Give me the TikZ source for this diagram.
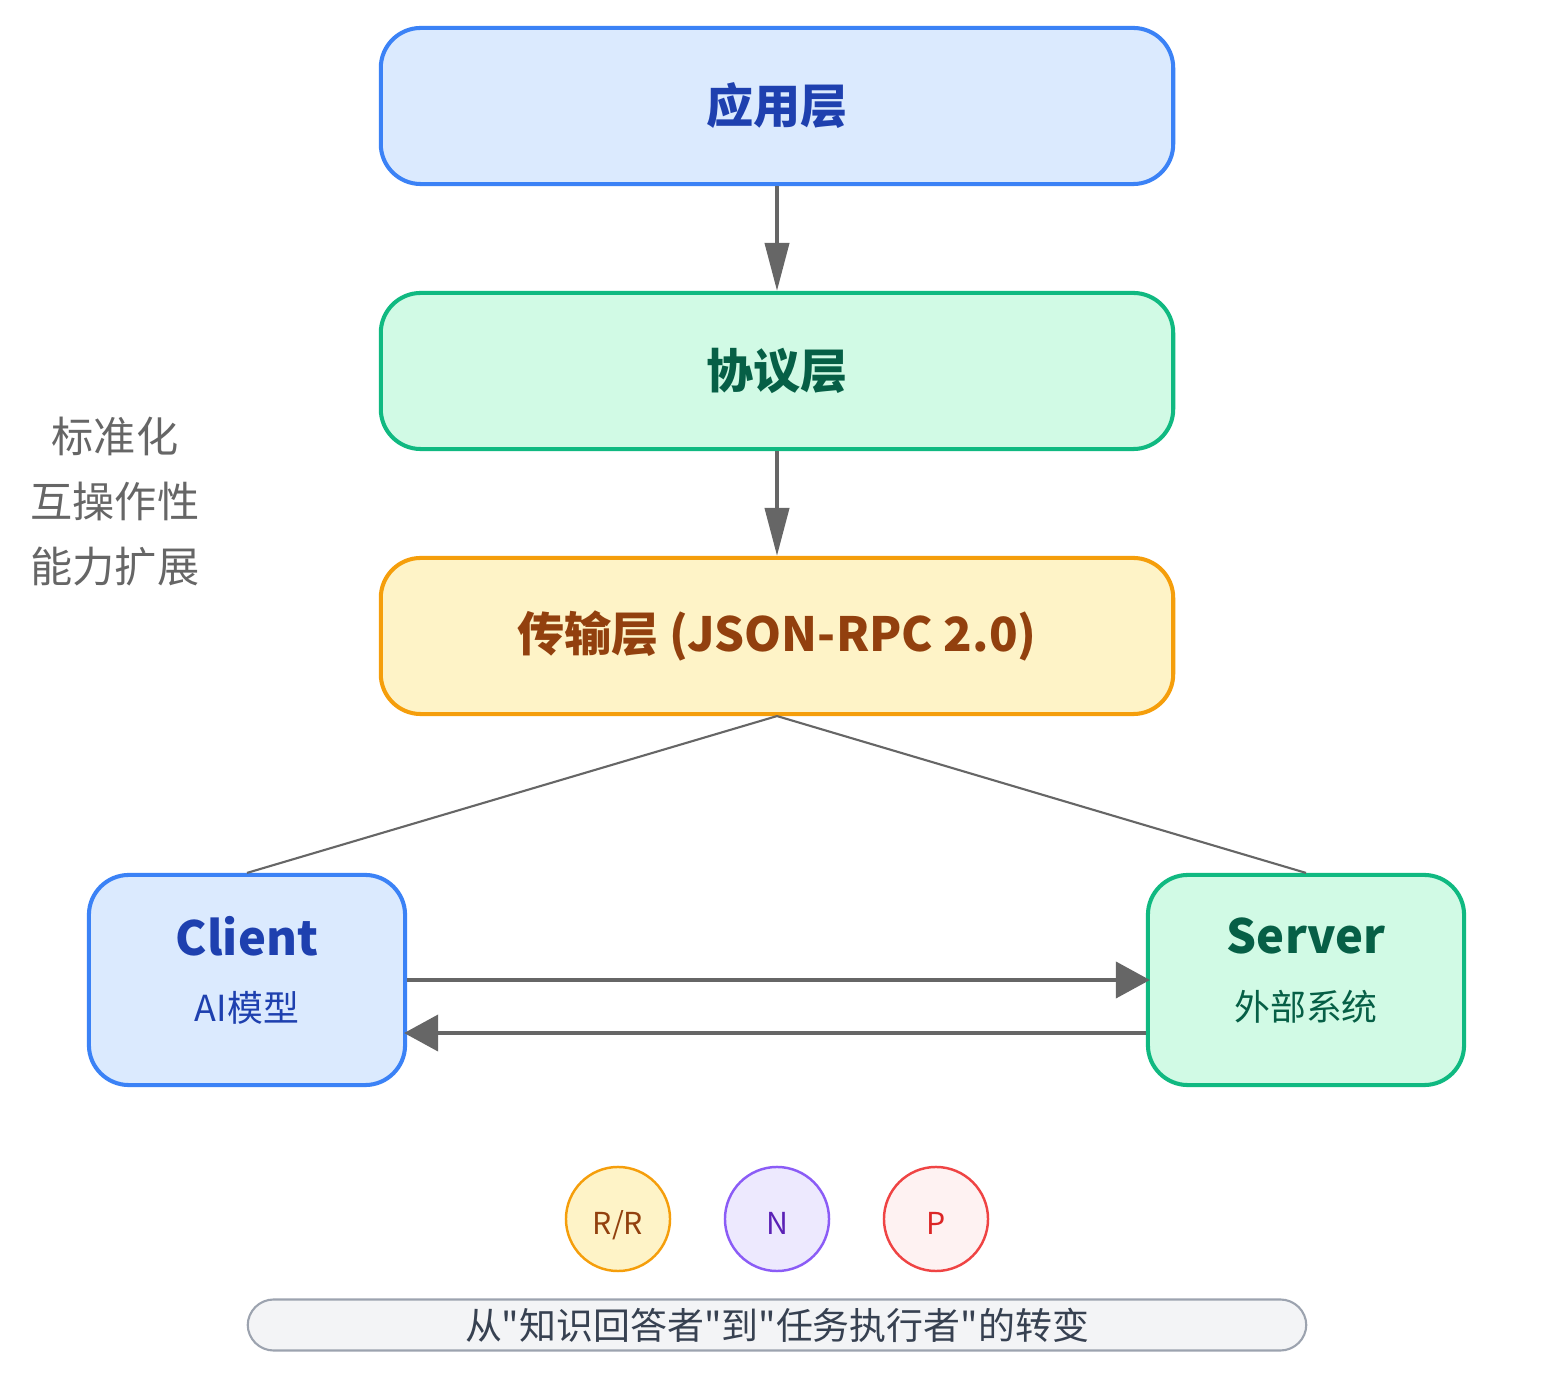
\documentclass[tikz,border=0pt]{standalone}
\usepackage{fontspec}
\setmainfont{Noto Sans CJK SC}
\usetikzlibrary{arrows.meta,positioning}
\definecolor{blueline}{HTML}{3B82F6}
\definecolor{bluefill}{HTML}{DBEAFE}
\definecolor{bluetext}{HTML}{1E40AF}
\definecolor{greenline}{HTML}{10B981}
\definecolor{greenfill}{HTML}{D1FAE5}
\definecolor{greentext}{HTML}{065F46}
\definecolor{orangeline}{HTML}{F59E0B}
\definecolor{orangefill}{HTML}{FEF3C7}
\definecolor{orangetext}{HTML}{92400E}
\definecolor{purpleline}{HTML}{8B5CF6}
\definecolor{purplefill}{HTML}{EDE9FE}
\definecolor{purpletext}{HTML}{5B21B6}
\definecolor{redline}{HTML}{EF4444}
\definecolor{redfill}{HTML}{FEF2F2}
\definecolor{redtext}{HTML}{DC2626}
\definecolor{arrowgray}{HTML}{666666}
\definecolor{notegray}{HTML}{F3F4F6}
\definecolor{noteline}{HTML}{9CA3AF}
\definecolor{notetext}{HTML}{374151}

\begin{document}
\begin{tikzpicture}[x=0.01cm,y=-0.01cm,
  layer/.style={draw,line width=1.15pt,rounded corners=0.4cm,
    minimum width=7.92cm,minimum height=1.56cm,
    font=\fontsize{13.4}{16}\selectfont\bfseries},
  endpoint/.style={draw,line width=1.15pt,rounded corners=0.4cm,
    minimum width=3.16cm,minimum height=2.10cm,align=center,text depth=0.22cm},
  msgtype/.style={circle,draw,line width=0.7pt,minimum size=1.04cm,inner sep=0pt,
    text height=0.30cm,text depth=0cm,font=\fontsize{8.6}{10}\selectfont},
  flow/.style={draw=arrowgray,line width=1.15pt,-{Triangle[length=0.48cm,width=0.24cm]}},
  link/.style={draw=arrowgray,line width=0.6pt},
  msg/.style={draw=arrowgray,line width=1.15pt,-{Triangle[length=0.34cm,width=0.36cm]}}]
  \useasboundingbox (0,0) rectangle (1554,1386);

  % protocol stack
  \node[layer,fill=bluefill,draw=blueline,text=bluetext] (app) at (777,106) {应用层};
  \node[layer,fill=greenfill,draw=greenline,text=greentext] (proto) at (777,371) {协议层};
  \node[layer,fill=orangefill,draw=orangeline,text=orangetext] (trans) at (777,636)
     {传输层 (JSON-RPC 2.0)};
  \draw[flow] (app) -- (proto);
  \draw[flow] (proto) -- (trans);

  % side notes
  \node[align=center,text=arrowgray,font=\fontsize{12}{18.5}\selectfont] (goals) at (115,502)
     {标准化\\互操作性\\能力扩展};

  % client and server
  \node[endpoint,fill=bluefill,draw=blueline,text=bluetext] (client) at (247,980)
     {{\fontsize{13.4}{16}\selectfont\bfseries Client}\\[7pt]{\fontsize{10.2}{12}\selectfont AI模型}};
  \node[endpoint,fill=greenfill,draw=greenline,text=greentext] (server) at (1306,980)
     {{\fontsize{13.4}{16}\selectfont\bfseries Server}\\[7pt]{\fontsize{10.2}{12}\selectfont 外部系统}};
  \draw[link] (trans.south) -- (client.north);
  \draw[link] (trans.south) -- (server.north);
  \draw[msg] (client.east) -- ([xshift=0.04cm]server.west);
  \draw[msg] ([yshift=-0.53cm]server.west) -- ([yshift=-0.53cm,xshift=-0.03cm]client.east);

  % message kinds
  \node[msgtype,fill=orangefill,draw=orangeline,text=orangetext] (rr) at (618,1219) {R/R};
  \node[msgtype,fill=purplefill,draw=purpleline,text=purpletext] (notif) at (777,1219) {N};
  \node[msgtype,fill=redfill,draw=redline,text=redtext] (push) at (936,1219) {P};

  \node[draw=noteline,fill=notegray,line width=0.6pt,rounded corners=0.26cm,
    minimum width=10.58cm,minimum height=0.51cm,inner sep=0pt,text=notetext,
    font=\fontsize{10.5}{11}\selectfont] (shift) at (777,1325)
     {从\textquotedbl 知识回答者\textquotedbl 到\textquotedbl 任务执行者\textquotedbl 的转变};
\end{tikzpicture}
\end{document}
